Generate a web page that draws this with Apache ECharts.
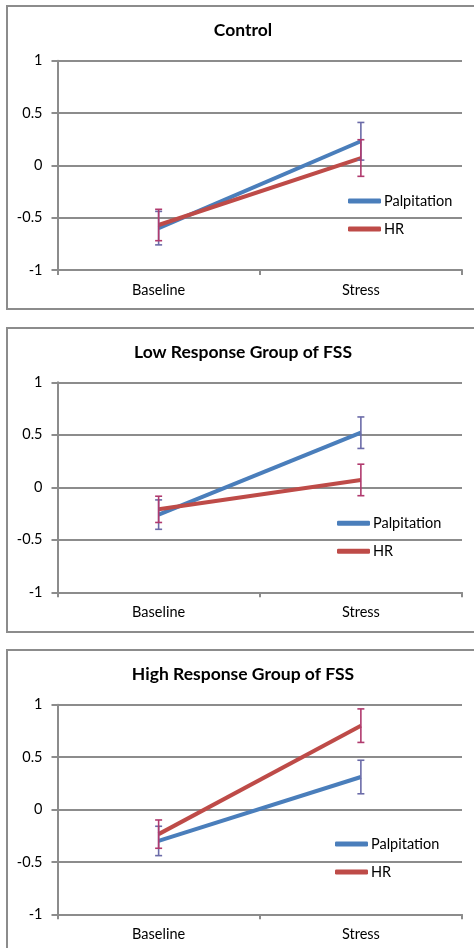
<!DOCTYPE html>
<html>
<head>
<meta charset="utf-8">
<script src="https://cdn.jsdelivr.net/npm/echarts@6/dist/echarts.min.js"></script>
<style>html,body{margin:0;padding:0;background:#fff}#c{width:474px;height:948px}</style>
</head>
<body>
<div id="c"></div>
<script>
var categories = ['Baseline', 'Stress'];
var titles = ['Control', 'Low Response Group of FSS', 'High Response Group of FSS'];
var yTicks = [-1, -0.5, 0, 0.5, 1];

var controlPalp = [-0.60, 0.23];
var controlPalpErr = [0.16, 0.18];
var controlHR = [-0.57, 0.07];
var controlHRErr = [0.15, 0.175];

var lowPalp = [-0.26, 0.52];
var lowPalpErr = [0.14, 0.15];
var lowHR = [-0.21, 0.07];
var lowHRErr = [0.125, 0.15];

var highPalp = [-0.30, 0.31];
var highPalpErr = [0.14, 0.16];
var highHR = [-0.235, 0.80];
var highHRErr = [0.135, 0.16];

var panels = [
  {palp: controlPalp, palpErr: controlPalpErr, hr: controlHR, hrErr: controlHRErr},
  {palp: lowPalp, palpErr: lowPalpErr, hr: lowHR, hrErr: lowHRErr},
  {palp: highPalp, palpErr: highPalpErr, hr: highHR, hrErr: highHRErr}
];

var FONT = 'Lato';
var GRAY = '#8c8c8c';
var BLUE = '#4a7ebb';
var RED = '#be4b48';
var BLUE_ERR = '#6b6ba8';
var RED_ERR = '#b03a6e';

var layout = [
  {box: 6, boxBottom: 309, title: 20.7, gridTop: 60.7, gridH: 209.3, legL: 348, legT: 193.5},
  {box: 328, boxBottom: 632, title: 342.3, gridTop: 382.3, gridH: 210, legL: 337, legT: 515.8},
  {box: 650, boxBottom: 960, title: 664.3, gridTop: 704.7, gridH: 209.6, legL: 335, legT: 836.5}
];

function errData(vals, errs) {
  return vals.map(function (v, i) { return [i, v - errs[i], v + errs[i]]; });
}
function errRender(color) {
  return function (params, api) {
    var x = api.value(0);
    var lo = api.coord([x, api.value(1)]);
    var hi = api.coord([x, api.value(2)]);
    var hw = 3.5;
    var st = {stroke: color, lineWidth: 1.6};
    return {
      type: 'group',
      children: [
        {type: 'line', shape: {x1: lo[0], y1: lo[1], x2: hi[0], y2: hi[1]}, style: st},
        {type: 'line', shape: {x1: lo[0] - hw, y1: lo[1], x2: lo[0] + hw, y2: lo[1]}, style: st},
        {type: 'line', shape: {x1: hi[0] - hw, y1: hi[1], x2: hi[0] + hw, y2: hi[1]}, style: st}
      ]
    };
  };
}

var option = {
  animation: false,
  backgroundColor: '#fff',
  title: [], grid: [], xAxis: [], yAxis: [], legend: [], series: [],
  graphic: []
};

layout.forEach(function (L, k) {
  option.graphic.push({
    type: 'rect', silent: true, z: -1,
    shape: {x: 7, y: L.box, width: 500, height: L.boxBottom - L.box},
    style: {fill: 'none', stroke: GRAY, lineWidth: 2}
  });
  option.title.push({
    text: titles[k], left: 243, textAlign: 'center', top: L.title, padding: 0,
    textStyle: {fontFamily: FONT, fontSize: 17.5, lineHeight: 20, fontWeight: 'bold', color: '#000'}
  });
  option.grid.push({left: 57.5, right: 12, top: L.gridTop, height: L.gridH});
  option.xAxis.push({
    type: 'category', gridIndex: k, data: categories, boundaryGap: true,
    axisLine: {show: true, onZero: false, lineStyle: {color: GRAY, width: 2}},
    axisTick: {show: true, length: 5, lineStyle: {color: GRAY, width: 2}},
    axisLabel: {fontFamily: FONT, fontSize: 14.5, color: '#000', margin: 13},
    splitLine: {show: false}
  });
  option.yAxis.push({
    type: 'value', gridIndex: k, min: -1, max: 1, interval: 0.5,
    axisLine: {show: true, lineStyle: {color: GRAY, width: 2}},
    axisTick: {show: true, length: 6, lineStyle: {color: GRAY, width: 2}},
    axisLabel: {fontFamily: FONT, fontSize: 14.5, color: '#000', margin: 15,
      formatter: function (v) { return String(v); }},
    splitLine: {show: true, lineStyle: {color: GRAY, width: 2}}
  });
  option.legend.push({
    orient: 'vertical', left: L.legL, top: L.legT, padding: 0, itemGap: 13,
    itemWidth: 33, itemHeight: 5, icon: 'roundRect',
    data: ['Palpitation', 'HR'],
    textStyle: {fontFamily: FONT, fontSize: 14.5, lineHeight: 15, color: '#000', padding: [0, 0, 0, -2]},
    selectedMode: false
  });
  var P = panels[k];
  option.series.push({
    name: 'Palpitation', type: 'line', xAxisIndex: k, yAxisIndex: k, data: P.palp,
    showSymbol: false, symbol: 'none', lineStyle: {color: BLUE, width: 4}, itemStyle: {color: BLUE}, z: 2
  });
  option.series.push({
    name: 'HR', type: 'line', xAxisIndex: k, yAxisIndex: k, data: P.hr,
    showSymbol: false, symbol: 'none', lineStyle: {color: RED, width: 4}, itemStyle: {color: RED}, z: 2
  });
  option.series.push({
    type: 'custom', xAxisIndex: k, yAxisIndex: k, data: errData(P.palp, P.palpErr),
    renderItem: errRender(BLUE_ERR), z: 3, encode: {x: 0, y: [1, 2]}
  });
  option.series.push({
    type: 'custom', xAxisIndex: k, yAxisIndex: k, data: errData(P.hr, P.hrErr),
    renderItem: errRender(RED_ERR), z: 4, encode: {x: 0, y: [1, 2]}
  });
});

var chart = echarts.init(document.getElementById('c'), null, {renderer: 'canvas'});
chart.setOption(option);
</script>
</body>
</html>
